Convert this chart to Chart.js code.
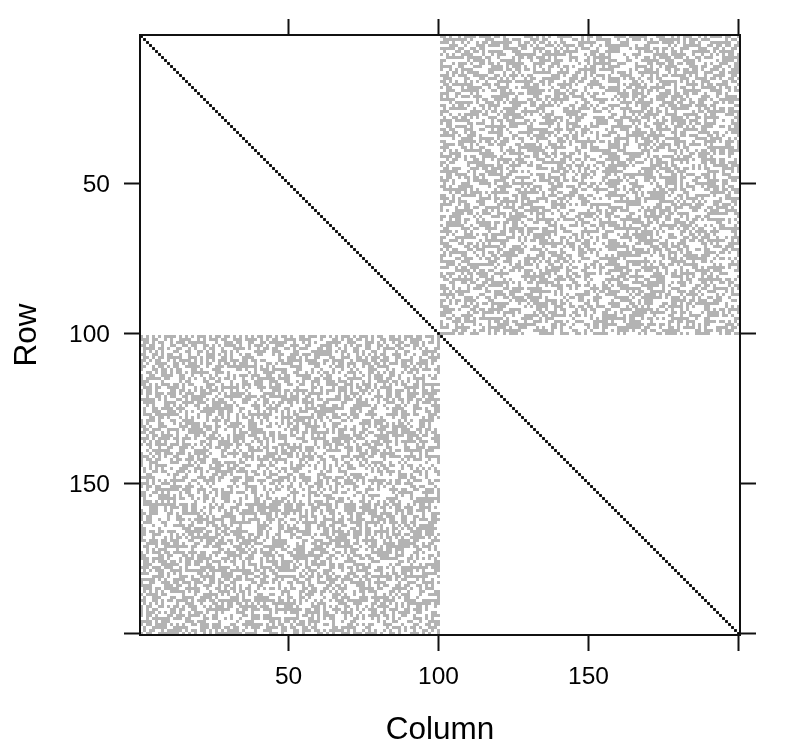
<!DOCTYPE html>
<html>
<head>
<meta charset="utf-8">
<style>
  html, body { margin: 0; padding: 0; background: #fff; }
  #wrap { width: 788px; height: 751px; }
</style>
<script src="https://cdn.jsdelivr.net/npm/chart.js@4"></script>
</head>
<body>
<div id="wrap"><canvas id="cv" width="788" height="751"></canvas></div>
<script>
const tickValues = [50, 100, 150, 200];
const tickLabels = { 50: "50", 100: "100", 150: "150", 200: "" };
const matrixSize = 200;

// diagonal entries of the sparse matrix
const diagonalIndex = [];
for (let i = 1; i <= matrixSize; i++) diagonalIndex.push(i);

// top right block, one hex string per row (100 columns)
// same density and texture, not cell exact
// lower left block is the transpose of it
const blockRows = [
"d2f7b40ea9f16c3df8e572bd9","7fa1c6e3b08d4f92ea7f5dc16","e94b7f2d6ac3f18e07bd5a3f9","1c8ef63a9d7b25fe4c0a7e6db","fb3607d9e2a5c8f17db4e39a6",
"46daf8e15b7c39f02ea68fd7c","a9e25c7f3fd0b684e1f7c92ad","3f7d90b6ea1c5f824d7ba6e3f","c05e8fa27b94d6e31f9c7a0bd","8ba6d3f1e7025f9c46edb8a73",
"f31c7ae94d68b2f07a5e1d9cb","95e0fb6d28a3f7c14e9b6d3a7","2d78c4a1f9e6b05d3f8a7ce6f","eb9f35d6074cae8f12b7d49e6","70c6ea8b3f1d92f5a6c0e7b4d",
"d4a91f7e6c5b38f0d27ea9c36","6fe3b20da9f47c15e8ba3d6f1","b17c9e5f84d0a6f37be2c9f5a","39fa6d07eb2c81f4d69a7e3cb","e6280fb7c3d95a1ef47b6c8d0",
"a5dc7e419b6f302ed8f7a1c9e","f80b3ac6d7e19f54b2e6d3a7f","17e9d5fb2a84c60f7e3d9b1ac","cb46f0e37d19a8f25c6ef7b03","5f92a7c8e06bd34f1a97e2d6c",
"e03d6b9fa47e1c85f6d20b7ef","92fb17ea5c3d8064af9e7cb1d","4da8e6f03b971ecf5d27a6f83","f7c25b8d1ea60f39e4b7dc925","b06e49fa7d3c2f18a9e5d6f07",
"37a1fdc6092eb87f4cd3a9e6b","d8e65a07f3b9c14e62fa7d80f","6cb0f93e7d15a8e2fb46c3d97","fa7418c5ea6d0b93f7e2dc6a1","09e7d6b2f1ac483e5d9f07bca",
"c3f5ae1089d7f6b24ea3c8f5d","7b28dc6f4e91a0f63d7b5ea19","e1a6093fd7c5b8f42ae9607fd","54fd8ba7e2063f9c1d8ea5b6f","9e07c5f1b6da83e7f4029bd6c",
"f6b3e82d9a70c4f1e5bd73a08","2c9a5f70e4d6b1f38ac7e9f62","d87e16ba3fc90e5d72f4a1b6e","a04fd9e6c1b752fe83d60a9f7","6e3b7a80f5d2c9e41f7b6ac3d",
"fc51e9d4076ab3f82e9dc07a5","3796fb02e8c5d1a7fe46b9d38","b2da0e7c6f49a3158f7ec6d0f","e85f3c917b6d02fa4d1e8c7b6","49c7a6fe0d83b5f1c29ea7f30",
"d3e09f15c7ba68e4f0d2b97ac","7fa82c6b4e0d9f35a16ec8db7","16bd7e3fa59c08e2d7f4603eb","c9f4a0d82e7b61fc53e9a7d18","ea07b65cf1d3948a6fe2bd05f",
"5b8e2fd796a1c03fe87d4a9c6","f2c61a9e07d5bf83e0c6f71ba","84d9f7b3e6c028fa15db9e6f4","a7e350cfb9184d6e2f7a0cb9e","0f6b9d72e4a3f5c18b6de07f3",
"de1475f8a0c6e9b32fd8a6c01","96ca03e6fd7b148fe59b2d7ea","3e8fb6d19a05c7e4f6a3d80c9","bf27a4c80e9d36f51c7ef4a62","61d9e5f7b2c08a3fe94d6b17f",
"f4a08db63e71f9c25ea0d7b86","28eb7c95fa0d4316fe8c9ad02","c7f163a9e8d52b0f7a4e6dc97","9d05fe2b74a6c8e13f90db7e5","e36a8c107fb9d2f46e75c1a8f",
"70dbf4e9265ac1fe83b7609dc","ac6e19f3d08b74e2f5d9a6c37","5f92d7b06ec3a81f7d4eb0f69","d18a6fc4e7b3095fe26a7dc81","86e5b30fa9d1c7f4082ebf96a",
"f9c0e72d5b6a18e3fd47c9a05","3a7fd16e8c90b5f2ea6d7c14f","e5b824f097acd63e1fb08d7e9","07d6c9ae5f3184fb6e92a7dc3","b96f3e0d7a2cf58e41d6f9a70",
"d2a7481fe9b6c05df3e7a9681","6fe9c50b73d8a1f64ce0b3fda","19b37ea6fd0c4298f7e5d1a6c","c84efa2097b6d35e1fa8c6d0b","ea5d06f7c1943b8fe6270d9f5",
"57c1b9e3fa80d6f2b3e9da714","fb063d8e42a7c9e16f58bd0a7","28e9a6f7d05b1c3e9fd74a6c8","d6f0c17b9ea3584f2e07db9c6","94ab7e25f6d0c8f1ae36b7f90",
"e1d85c0af39b6e72d46fa8c15","7a36f9e0d2c5b18f7e94a0d6f","f05bd7a16e4c9328fbe6d17a9","c9e2048fb7d6a3e5f10c9e7b4","36d7fa1e5c082bfd96a7e4c03",
"8ef0b6c9d3a71f45e20db8f6a","a5149e7f06c8dbe3f7692ac1d","e7c2fd38a6905b1fec4d7a8f6","0d96b7e1f48ca25e9b3f06edc","fb38a5d07ce69f1428dea7c5b"
];

function hexBit(hex, col) {
  const digit = parseInt(hex[Math.floor(col / 4)], 16);
  return (digit >> (3 - col % 4)) & 1;
}

const upperCells = [];
const lowerCells = [];
blockRows.forEach((hex, r) => {
  for (let c = 0; c < 100; c++) {
    if (!hexBit(hex, c)) continue;
    upperCells.push({ x: 101 + c, y: r + 1 });
    lowerCells.push({ x: r + 1, y: 101 + c });
  }
});
const diagonalCells = diagonalIndex.map(i => ({ x: i, y: i }));

const FONT = "'Liberation Sans', Arial, sans-serif";
const PLOT = { left: 140, right: 48, top: 35, bottom: 116 };
const CELL_R = 3 / Math.SQRT2;
const DIAG_R = 2.8 / Math.SQRT2;

function sized(axis, key) {
  if (key === "left" || key === "right") axis.width = PLOT[key];
  else axis.height = PLOT[key];
}

function makeAxis(key, reverse, showLabels, titleText) {
  const horizontal = key === "bottom" || key === "top";
  return {
    type: "linear",
    position: key,
    // the tiny nudge makes x ticks round to the same pixel as the reference
    min: horizontal ? 0.499 : 0.5,
    max: horizontal ? matrixSize + 0.499 : matrixSize + 0.5,
    reverse: reverse,
    afterBuildTicks: a => { a.ticks = tickValues.map(v => ({ value: v })); },
    afterFit: a => sized(a, key),
    grid: {
      drawOnChartArea: false,
      drawTicks: true,
      tickLength: 16,
      tickWidth: 2,
      tickColor: "#111",
      z: 1
    },
    border: { display: true, color: "#111", width: 2, z: 1 },
    ticks: {
      display: showLabels,
      autoSkip: false,
      maxRotation: 0,
      minRotation: 0,
      padding: horizontal ? 12 : 14,
      labelOffset: horizontal ? 0 : 2,
      color: "#000",
      font: { family: FONT, size: 24.5 },
      callback: v => tickLabels[v]
    },
    title: {
      display: !!titleText,
      text: titleText || "",
      color: "#000",
      font: { family: FONT, size: 31.5 },
      padding: key === "bottom" ? { top: 0, bottom: 2 } : { top: 8, bottom: 0 }
    }
  };
}

new Chart(document.getElementById("cv"), {
  type: "scatter",
  data: {
    datasets: [
      { data: upperCells, backgroundColor: "#b3b3b3" },
      { data: lowerCells, backgroundColor: "#b3b3b3" },
      { data: diagonalCells, backgroundColor: "#000", radius: DIAG_R }
    ]
  },
  options: {
    responsive: false,
    animation: false,
    events: [],
    layout: { padding: 0 },
    elements: {
      point: { pointStyle: "rect", radius: CELL_R, borderWidth: 0, hoverRadius: CELL_R }
    },
    plugins: {
      legend: { display: false },
      title: { display: false },
      tooltip: { enabled: false }
    },
    scales: {
      x: makeAxis("bottom", false, true, "Column"),
      xTop: makeAxis("top", false, false, ""),
      y: makeAxis("left", true, true, "Row"),
      yRight: makeAxis("right", true, false, "")
    }
  }
});
</script>
</body>
</html>
